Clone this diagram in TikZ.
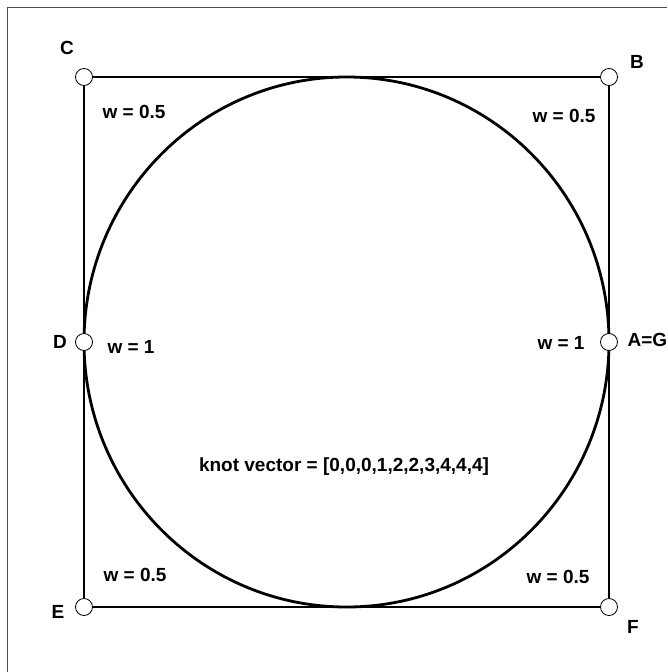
\documentclass[tikz,border=0pt]{standalone}
\usepackage{fontspec}
\setmainfont{Liberation Sans}

\begin{document}
\begin{tikzpicture}[
  x=1pt, y=-1pt,
  % Bendri stiliai
  every node/.style={font=\fontsize{19}{22}\selectfont\bfseries},
  ctrl/.style={draw, circle, fill=white, inner sep=0pt, minimum size=17pt, line width=0.8pt},
  polygon/.style={line width=1.4pt},
  curve/.style={line width=2.8pt},
  frame/.style={line width=1pt, black!70}
]
  \useasboundingbox (0,0) rectangle (667,672);

  % Remelis
  \draw[frame] (7,672) -- (7,7) -- (667,7);

  % Apskritimas
  \draw[curve] (346.5,342) ellipse [x radius=262.5, y radius=265];

  % Valdymo taskai
  \node[ctrl] (C) at (84,77) {};
  \node[ctrl] (B) at (609,77) {};
  \node[ctrl] (A) at (609,342) {};
  \node[ctrl] (F) at (609,607) {};
  \node[ctrl] (E) at (84,607) {};
  \node[ctrl] (D) at (84,342) {};

  % Valdymo daugiakampis
  \draw[polygon] (A) -- (B) -- (C) -- (D) -- (E) -- (F) -- (A);

  % Tasku pavadinimai
  \node (lC) at (67,48) {C};
  \node (lB) at (637,62) {B};
  \node (lD) at (60,342) {D};
  \node[anchor=west] (lA) at (624,340) {A=G};
  \node (lE) at (58,612) {E};
  \node (lF) at (633,627) {F};

  % Svoriai
  \node (wC) at (134,112) {w = 0.5};
  \node (wB) at (564,116) {w = 0.5};
  \node (wD) at (131,347) {w = 1};
  \node (wA) at (561,343) {w = 1};
  \node (wE) at (135,575) {w = 0.5};
  \node (wF) at (558,577) {w = 0.5};

  \node (knot) at (344,467) {knot vector = [0,0,0,1,2,2,3,4,4,4]};
\end{tikzpicture}
\end{document}
